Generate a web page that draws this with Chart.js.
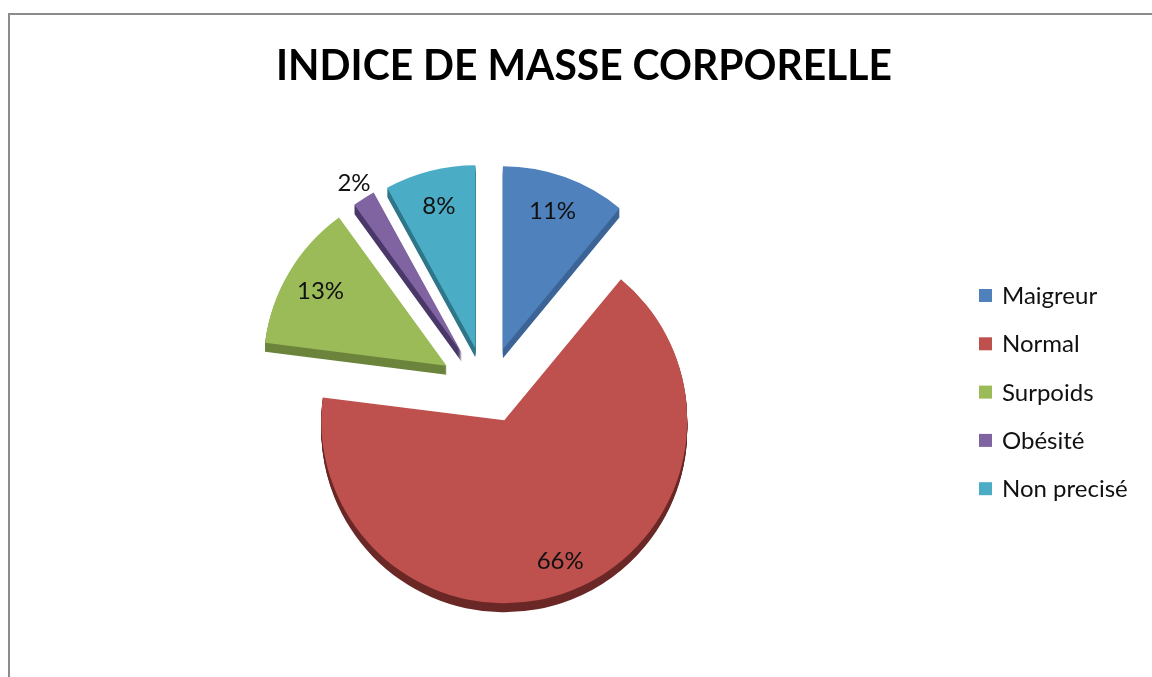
<!DOCTYPE html>
<html>
<head>
<meta charset="utf-8">
<script src="https://cdn.jsdelivr.net/npm/chart.js@4/dist/chart.umd.min.js"></script>
<style>
  html, body { margin: 0; padding: 0; background: #ffffff; overflow: hidden; }
  #wrap { position: relative; width: 1152px; height: 677px; overflow: hidden; }
  #frame { position: absolute; left: 8px; top: 13px; width: 2000px; height: 2000px;
           border-left: 2px solid #8c8c8c; border-top: 2px solid #8c8c8c; box-sizing: border-box; }
  canvas { position: absolute; left: 0; top: 0; }
</style>
</head>
<body>
<div id="wrap">
  <div id="frame"></div>
  <canvas id="c" width="1152" height="677"></canvas>
</div>
<script>
const title = "INDICE DE MASSE CORPORELLE";
const categories = ["Maigreur", "Normal", "Surpoids", "Obésité", "Non precisé"];
const values = [11, 66, 13, 2, 8];
const colors = ["#4F81BD", "#BE504D", "#9BBB59", "#8064A2", "#4BACC6"];
const sideColors = ["#3C6496", "#6A2826", "#6C843C", "#4A3868", "#2F7689"];

const EXPLODE_X = 47, EXPLODE_Y = 38, DEPTH = 9;

function explodeShift(arc) {
  const half = (arc.startAngle + arc.endAngle) / 2;
  return { dx: Math.cos(half) * EXPLODE_X, dy: Math.sin(half) * EXPLODE_Y, half };
}

const pie3d = {
  id: 'pie3d',
  beforeDatasetsDraw(chart) {
    const ctx = chart.ctx;
    const meta = chart.getDatasetMeta(0);
    meta.data.forEach((arc, i) => {
      const { dx, dy } = explodeShift(arc);
      const orig = arc.options;
      arc.options = Object.assign({}, orig, { backgroundColor: sideColors[i], borderWidth: 0 });
      for (let t = DEPTH; t >= 1; t--) {
        ctx.save();
        ctx.translate(dx, dy + t);
        arc.draw(ctx);
        ctx.restore();
      }
      arc.options = orig;
    });
    meta.data.forEach((arc) => {
      const { dx, dy } = explodeShift(arc);
      ctx.save();
      ctx.translate(dx, dy);
      arc.draw(ctx);
      ctx.restore();
    });
    const total = values.reduce((a, b) => a + b, 0);
    ctx.save();
    ctx.font = '24px Lato, "Open Sans", sans-serif';
    ctx.fillStyle = '#111111';
    ctx.textAlign = 'center';
    ctx.textBaseline = 'middle';
    meta.data.forEach((arc, i) => {
      const { dx, dy, half } = explodeShift(arc);
      const pct = values[i] / total * 100;
      const f = pct < 5 ? 1.1 : (pct > 50 ? 0.83 : 0.8);
      const r = arc.outerRadius * f;
      const x = arc.x + dx + Math.cos(half) * r;
      const y = arc.y + dy + Math.sin(half) * r;
      ctx.fillText(Math.round(pct) + '%', x, y);
    });
    ctx.restore();
    return false;
  },
  afterDraw(chart) {
    const ctx = chart.ctx;
    ctx.save();
    ctx.font = 'bold 42px Lato, "Open Sans", sans-serif';
    ctx.fillStyle = '#000000';
    ctx.textBaseline = 'alphabetic';
    const w = ctx.measureText(title).width;
    const sx = Math.min(1, 616 / w);
    ctx.translate(584, 80);
    ctx.scale(sx, 1);
    ctx.textAlign = 'center';
    ctx.fillText(title, 0, 0);
    ctx.restore();
    ctx.save();
    ctx.font = '24px Lato, "Open Sans", sans-serif';
    ctx.textBaseline = 'alphabetic';
    ctx.textAlign = 'left';
    categories.forEach((lab, i) => {
      const base = 304 + i * 48.3;
      ctx.fillStyle = colors[i];
      ctx.fillRect(979, base - 15, 13, 13);
      ctx.fillStyle = '#111111';
      ctx.fillText(lab, 1002, base);
    });
    ctx.restore();
  }
};

new Chart(document.getElementById('c'), {
  type: 'pie',
  data: {
    labels: categories,
    datasets: [{
      data: values,
      backgroundColor: colors,
      borderWidth: 0,
      offset: 0,
      hoverOffset: 0
    }]
  },
  options: {
    responsive: false,
    animation: false,
    devicePixelRatio: 1,
    radius: 183,
    layout: { padding: { left: 10, right: 188, top: 100, bottom: 7 } },
    events: [],
    plugins: {
      legend: { display: false },
      title: { display: false },
      tooltip: { enabled: false }
    }
  },
  plugins: [pie3d]
});
</script>
</body>
</html>
